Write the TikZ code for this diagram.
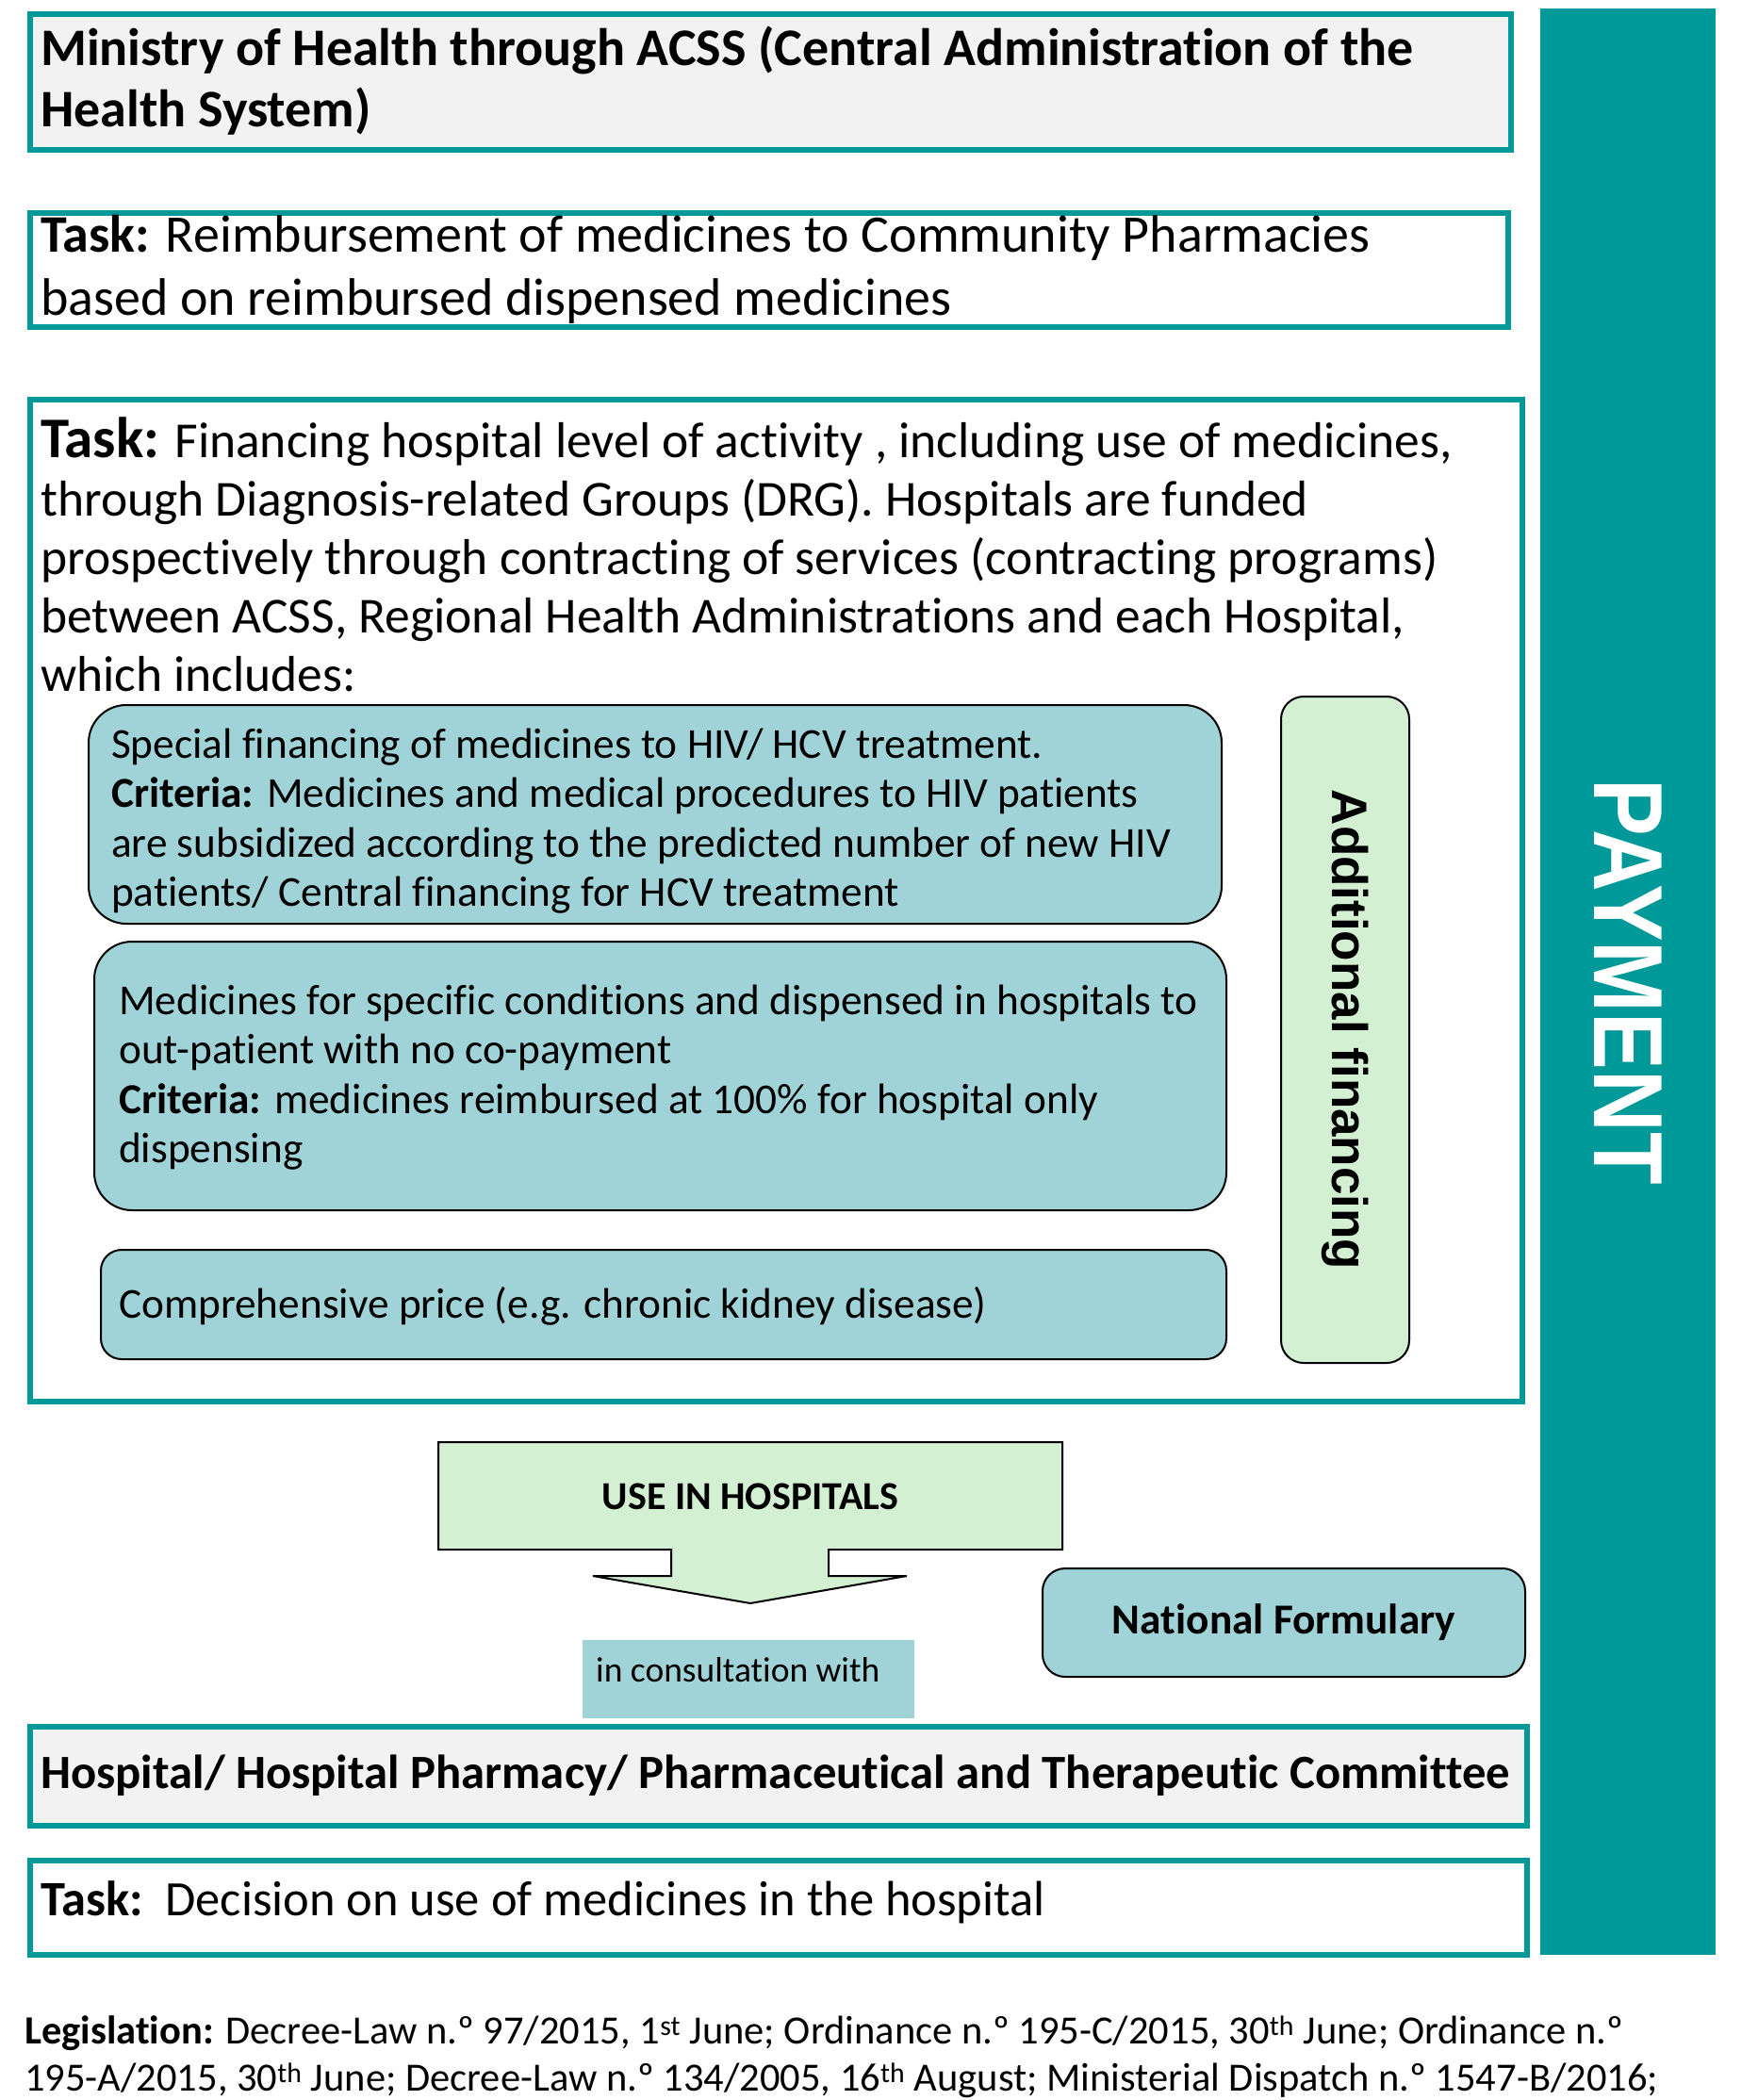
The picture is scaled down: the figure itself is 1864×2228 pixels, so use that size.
\documentclass[tikz,border=0pt]{standalone}
\usepackage{fontspec}
\setmainfont{Carlito}[Ligatures=NoCommon]
\newfontfamily\arialfont{Liberation Sans}
\usetikzlibrary{positioning,calc}
\definecolor{tealc}{HTML}{009999}
\definecolor{greyfill}{HTML}{F2F2F2}
\definecolor{aquafill}{HTML}{A0D3D7}
\definecolor{mintfill}{HTML}{D3F0D3}
\tikzset{
  tealbox/.style={draw=tealc, line width=6pt, anchor=north west, inner sep=0pt},
  roundbox/.style={draw=black, line width=2pt, fill=aquafill, rounded corners=40pt, anchor=north west, inner sep=0pt},
  txt/.style={anchor=west, align=left, inner sep=0pt},
}
\begin{document}
\begin{tikzpicture}[x=1pt, y=-1pt]
  \tikzset{
    big/.style={font=\fontsize{53.5}{62}\selectfont},
    mid/.style={font=\fontsize{45.3}{52.5}\selectfont},
  }
  \useasboundingbox (0,0) rectangle (1864,2228);

  % ministry
  \node[tealbox, fill=greyfill, minimum width=1571, minimum height=144] (moh) at (29,12) {};
  \node[txt, font=\bfseries\fontsize{56}{65}\selectfont] (mohtxt) at (43,86)
    {Ministry of Health through ACSS (Central Administration of the\\Health System)};

  \node[tealbox, minimum width=1568, minimum height=121] (task1) at (29,223) {};
  \node[txt, font=\fontsize{56}{67}\selectfont] (task1txt) at (43,286)
    {\textbf{Task:} Reimbursement of medicines to Community Pharmacies\\based on reimbursed dispensed medicines};

  % hospital financing
  \node[tealbox, minimum width=1583, minimum height=1063] (fin) at (29,421) {};
  \node[txt, big] (fintxt) at (43,588)
    {{\bfseries\fontsize{61}{62}\selectfont Task:} Financing hospital level of activity , including use of medicines,\\
     through Diagnosis-related Groups (DRG). Hospitals are funded\\
     prospectively through contracting of services (contracting programs)\\
     between ACSS, Regional Health Administrations and each Hospital,\\
     which includes:};

  \node[roundbox, minimum width=1202, minimum height=232] (hiv) at (93,747) {};
  \node[txt, mid] (hivtxt) at (118,871)
    {Special financing of medicines to HIV/ HCV treatment.\\
     \textbf{Criteria:} Medicines and medical procedures to HIV patients\\
     are subsidized according to the predicted number of new HIV\\
     patients/ Central financing for HCV treatment};

  \node[roundbox, minimum width=1201, minimum height=285] (outp) at (99,998) {};
  \node[txt, mid] (outptxt) at (126,1143)
    {Medicines for specific conditions and dispensed in hospitals to\\
     out-patient with no co-payment\\
     \textbf{Criteria:} medicines reimbursed at 100\% for hospital only\\
     dispensing};

  \node[roundbox, rounded corners=22pt, minimum width=1194, minimum height=116] (ckd) at (106,1325) {};
  \node[txt, mid] (ckdtxt) at (126,1386) {Comprehensive price (e.g. chronic kidney disease)};

  \node[roundbox, fill=mintfill, rounded corners=24pt, minimum width=136, minimum height=707] (addfin) at (1358,738) {};
  \node[rotate=-90, font=\arialfont\bfseries\fontsize{53}{53}\selectfont] (addfintxt) at (addfin.center) {Additional financing};

  % payment bar
  \node[fill=tealc, anchor=north west, minimum width=186, minimum height=2065, inner sep=0pt] (pay) at (1634,9) {};
  \node[rotate=-90, text=white, font=\arialfont\bfseries\fontsize{104}{104}\selectfont] (paytxt) at (pay.center)
    {\scalebox{0.875}[1]{PAYMENT}};

  % use in hospitals
  \draw[line width=2pt, fill=mintfill] (465,1530) -- (1127,1530) -- (1127,1644) -- (879,1644)
    -- (879,1672) -- (962,1672) -- (796,1701) -- (629,1672) -- (712,1672) -- (712,1644)
    -- (465,1644) -- cycle;
  \node[font=\bfseries\fontsize{42}{42}\selectfont] (usehosp) at (796,1588) {USE IN HOSPITALS};

  \node[fill=aquafill, anchor=north west, minimum width=352, minimum height=83, inner sep=0pt] (consult) at (618,1740) {};
  \node[txt, font=\fontsize{37.5}{37.5}\selectfont] (consulttxt) at (632,1772) {in consultation with};

  \node[roundbox, rounded corners=24pt, minimum width=512, minimum height=115] (natform) at (1105,1663) {};
  \node[font=\bfseries\fontsize{45.3}{45}\selectfont] (natformtxt) at (natform.center) {National Formulary};

  % hospital committee
  \node[tealbox, fill=greyfill, minimum width=1588, minimum height=105] (ptc) at (29,1829) {};
  \node[txt, font=\bfseries\fontsize{50.7}{50}\selectfont] (ptctxt) at (43,1884)
    {Hospital/ Hospital Pharmacy/ Pharmaceutical and Therapeutic Committee};

  \node[tealbox, minimum width=1588, minimum height=100] (task2) at (29,1971) {};
  \node[txt, font=\fontsize{52.5}{52}\selectfont] (task2txt) at (43,2018) {\textbf{Task:}\ \ Decision on use of medicines in the hospital};

  % legislation
  \node[txt, font=\fontsize{42.5}{50}\selectfont] (legis) at (26,2182)
    {\textbf{Legislation:} Decree-Law n.º 97/2015, 1\textsuperscript{st} June; Ordinance n.º 195-C/2015, 30\textsuperscript{th} June; Ordinance n.º\\
     195-A/2015, 30\textsuperscript{th} June; Decree-Law n.º 134/2005, 16\textsuperscript{th} August; Ministerial Dispatch n.º 1547-B/2016;};
\end{tikzpicture}
\end{document}
